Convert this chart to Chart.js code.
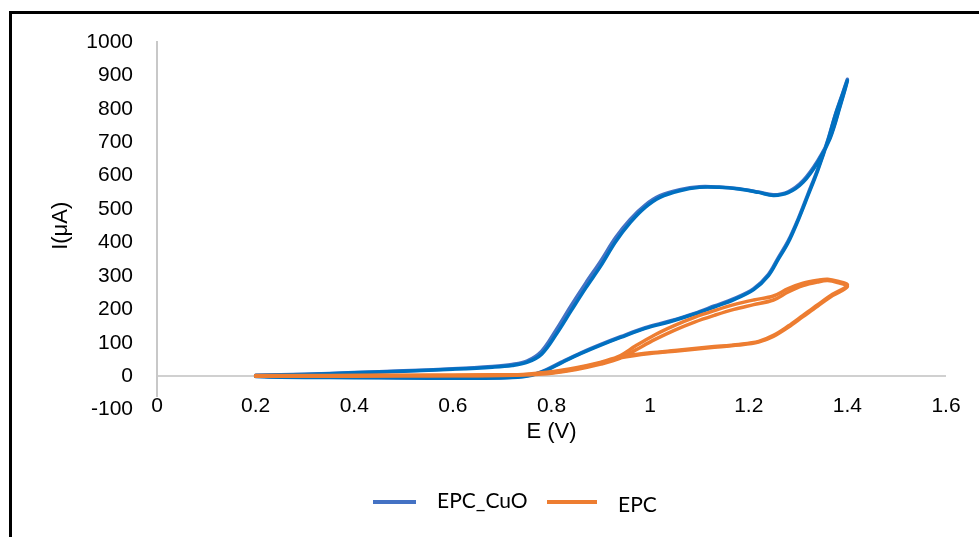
<!DOCTYPE html>
<html>
<head>
<meta charset="utf-8">
<script src="https://cdn.jsdelivr.net/npm/chart.js@4.4.1/dist/chart.umd.min.js"></script>
<style>
  html, body { margin: 0; padding: 0; background: #fff; overflow: hidden; }
  #frame { position: absolute; left: 9px; top: 11px; width: 1200px; height: 800px; border: 3px solid #000; }
  #chart { position: absolute; left: 0; top: 0; }
</style>
</head>
<body>
<div id="frame"></div>
<canvas id="chart" width="979" height="537"></canvas>
<script>
// series names and legend colours
const seriesNames = ['EPC_CuO', 'EPC'];
const legendColors = ['#4472C4', '#ED7D31'];

// axis ticks
const xTicks = [0, 0.2, 0.4, 0.6, 0.8, 1, 1.2, 1.4, 1.6];
const yTicks = [-100, 0, 100, 200, 300, 400, 500, 600, 700, 800, 900, 1000];

// EPC_CuO, cycle 1 (forward then reverse), E in V, I in uA
const cuoE1 = [0.20, 0.30, 0.40, 0.50, 0.60, 0.68, 0.72, 0.75, 0.78, 0.81, 0.84, 0.87, 0.90, 0.93, 0.96, 0.99, 1.02, 1.06, 1.10, 1.14, 1.18, 1.22, 1.25, 1.28, 1.31, 1.34, 1.365, 1.385, 1.40,
  1.39, 1.375, 1.36, 1.34, 1.32, 1.30, 1.28, 1.26, 1.24, 1.21, 1.17, 1.13, 1.09, 1.04, 0.99, 0.94, 0.90, 0.86, 0.82, 0.79, 0.76, 0.72, 0.65, 0.55, 0.45, 0.35, 0.25, 0.20];
const cuoI1 = [3, 6, 11, 16, 22, 29, 35, 45, 75, 140, 212, 280, 345, 415, 470, 512, 540, 558, 567, 566, 561, 551, 543, 552, 585, 645, 716, 810, 888,
  845, 780, 705, 620, 545, 470, 405, 355, 305, 262, 232, 210, 188, 165, 145, 118, 95, 70, 42, 20, 4, -3, -5, -5, -4, -3, -2, 0];

// EPC_CuO, cycle 2
const cuoE2 = [0.20, 0.30, 0.40, 0.50, 0.60, 0.68, 0.72, 0.75, 0.78, 0.81, 0.84, 0.87, 0.90, 0.93, 0.96, 0.99, 1.02, 1.06, 1.10, 1.14, 1.18, 1.22, 1.25, 1.28, 1.31, 1.34, 1.365, 1.385, 1.40,
  1.39, 1.375, 1.36, 1.34, 1.32, 1.30, 1.28, 1.26, 1.24, 1.21, 1.17, 1.13, 1.09, 1.04, 0.99, 0.94, 0.90, 0.86, 0.82, 0.79, 0.76, 0.72, 0.65, 0.55, 0.45, 0.35, 0.25, 0.20];
const cuoI2 = [2, 5, 10, 15, 21, 27, 32, 41, 66, 126, 196, 265, 330, 402, 460, 505, 535, 555, 565, 565, 560, 550, 541, 549, 580, 640, 712, 806, 884,
  842, 778, 702, 616, 540, 466, 400, 350, 301, 259, 229, 207, 186, 163, 143, 116, 93, 68, 40, 18, 3, -4, -6, -6, -5, -4, -3, -1];

// EPC, cycle 1
const epcE1 = [0.20, 0.30, 0.40, 0.50, 0.60, 0.70, 0.75, 0.80, 0.85, 0.89, 0.94, 1.00, 1.06, 1.12, 1.18, 1.22, 1.25, 1.28, 1.31, 1.34, 1.37, 1.40,
  1.38, 1.36, 1.34, 1.31, 1.28, 1.25, 1.21, 1.17, 1.13, 1.09, 1.05, 1.01, 0.97, 0.94, 0.90, 0.85, 0.80, 0.75, 0.70, 0.60, 0.50, 0.40, 0.30, 0.20];
const epcI1 = [2, 2, 2, 3, 3, 4, 6, 13, 25, 38, 58, 70, 78, 87, 95, 104, 122, 150, 182, 214, 245, 272,
  284, 290, 287, 278, 262, 240, 228, 214, 196, 176, 152, 124, 90, 62, 40, 22, 10, 5, 3, 2, 1, 1, 0, 0];

// EPC, cycle 2
const epcE2 = [0.20, 0.30, 0.40, 0.50, 0.60, 0.70, 0.75, 0.80, 0.85, 0.89, 0.94, 1.00, 1.06, 1.12, 1.18, 1.22, 1.25, 1.28, 1.31, 1.34, 1.37, 1.40,
  1.38, 1.36, 1.34, 1.31, 1.28, 1.25, 1.21, 1.17, 1.13, 1.09, 1.05, 1.01, 0.97, 0.94, 0.90, 0.85, 0.80, 0.75, 0.70, 0.60, 0.50, 0.40, 0.30, 0.20];
const epcI2 = [1, 1, 2, 2, 3, 4, 5, 12, 23, 36, 55, 68, 76, 85, 93, 102, 119, 146, 178, 210, 241, 268,
  280, 286, 282, 271, 252, 228, 214, 200, 182, 162, 138, 110, 78, 54, 36, 20, 9, 4, 2, 1, 1, 0, 0, 0];

const toPoints = (E, I) => E.map((e, i) => ({ x: e, y: I[i] }));

function curve(label, E, I, color, order) {
  return {
    label: label,
    data: toPoints(E, I),
    showLine: true,
    borderColor: color,
    backgroundColor: color,
    borderWidth: 3.5,
    borderCapStyle: 'round',
    borderJoinStyle: 'round',
    pointRadius: 0,
    tension: 0.35,
    order: order
  };
}

// x tick labels sit low, level with -100 (Excel "low" labels), so draw them here
const lowXLabels = {
  id: 'lowXLabels',
  afterDraw(chart) {
    const ctx = chart.ctx;
    const xs = chart.scales.x;
    ctx.save();
    ctx.font = '21px "Liberation Sans", Arial, sans-serif';
    ctx.textAlign = 'center';
    ctx.textBaseline = 'middle';
    xTicks.forEach(v => {
      const t = String(v);
      const px = xs.getPixelForValue(v);
      const w = ctx.measureText(t).width;
      ctx.fillStyle = '#fff';
      ctx.fillRect(px - w / 2 - 1, 397, w + 2, 18);
      ctx.fillStyle = '#000';
      ctx.fillText(t, px, 406);
    });
    ctx.restore();
  }
};

// legend drawn like Excel: line sample, gap, text
const bottomLegend = {
  id: 'bottomLegend',
  afterDraw(chart) {
    const ctx = chart.ctx;
    ctx.save();
    ctx.lineWidth = 4;
    ctx.lineCap = 'butt';
    ctx.font = '21px Lato, "Noto Sans", sans-serif';
    ctx.textBaseline = 'middle';
    ctx.fillStyle = '#000';

    ctx.strokeStyle = legendColors[0];
    ctx.beginPath(); ctx.moveTo(373, 502); ctx.lineTo(416, 502); ctx.stroke();
    ctx.fillText(seriesNames[0], 437, 501);

    ctx.strokeStyle = legendColors[1];
    ctx.beginPath(); ctx.moveTo(547, 502); ctx.lineTo(597, 502); ctx.stroke();
    ctx.fillText(seriesNames[1], 618, 505);
    ctx.restore();
  }
};

Chart.defaults.font.family = '"Liberation Sans", Arial, sans-serif';
Chart.defaults.color = '#000';

new Chart(document.getElementById('chart'), {
  type: 'scatter',
  data: {
    datasets: [
      curve(seriesNames[1], epcE1, epcI1, '#ED7D31', 0),
      curve(seriesNames[1], epcE2, epcI2, '#ED7D31', 1),
      curve(seriesNames[0], cuoE2, cuoI2, '#0070C0', 2),
      curve(seriesNames[0], cuoE1, cuoI1, '#4472C4', 3)
    ]
  },
  options: {
    responsive: false,
    animation: false,
    devicePixelRatio: 1,
    layout: { padding: { left: 0, right: 33, top: 42, bottom: 0 } },
    plugins: {
      legend: { display: false },
      tooltip: { enabled: false }
    },
    scales: {
      x: {
        type: 'linear',
        min: 0,
        max: 1.6,
        afterBuildTicks: s => { s.ticks = xTicks.map(v => ({ value: v })); },
        afterFit: s => { s.height = 127.4; },
        grid: { display: false, drawTicks: false },
        border: { display: false },
        ticks: { display: false },
        title: {
          display: true,
          text: 'E (V)',
          color: '#000',
          font: { size: 22 },
          padding: { top: 0, bottom: 92 }
        }
      },
      y: {
        type: 'linear',
        min: -100,
        max: 1000,
        afterBuildTicks: s => { s.ticks = yTicks.map(v => ({ value: v })); },
        afterFit: s => { s.width = 157; },
        grid: {
          drawTicks: false,
          lineWidth: 2,
          color: c => (c.tick && c.tick.value === 0) ? '#d0d0d0' : 'rgba(0,0,0,0)'
        },
        border: { display: true, color: '#c8c8c8', width: 2 },
        ticks: {
          padding: 24,
          color: '#000',
          font: { size: 21 },
          callback: v => String(v)
        },
        title: {
          display: true,
          text: 'I(μA)',
          color: '#000',
          font: { size: 22 },
          padding: { top: 48, bottom: 0 }
        }
      }
    }
  },
  plugins: [lowXLabels, bottomLegend]
});
</script>
</body>
</html>
